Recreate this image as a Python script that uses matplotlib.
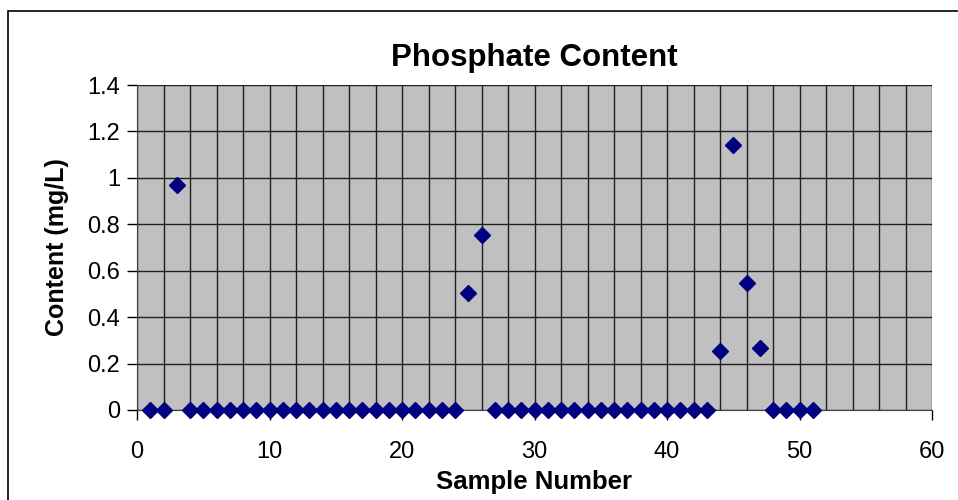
import matplotlib.pyplot as plt
from matplotlib.patches import Rectangle
from matplotlib.ticker import MultipleLocator

plt.rcParams['font.family'] = ['Liberation Sans', 'DejaVu Sans']

# sample numbers and phosphate content (mg/L)
sample = list(range(1, 52))
content = [0.0] * 51
content[3 - 1] = 0.97
content[25 - 1] = 0.505
content[26 - 1] = 0.755
content[44 - 1] = 0.255
content[45 - 1] = 1.14
content[46 - 1] = 0.545
content[47 - 1] = 0.265

fig = plt.figure(figsize=(9.58, 5), dpi=100)
ax = fig.add_axes([137/958, 1 - 410/500, (932-137)/958, (410-85)/500])

# outer chart frame (runs off the right and bottom of the picture)
fig.patches.append(Rectangle((8/958, -0.1), 1.2, 1 - 11/500 + 0.1, transform=fig.transFigure,
                             fill=False, edgecolor='black', linewidth=1.2))

ax.set_facecolor('#C0C0C0')
ax.plot(sample, content, linestyle='none', marker='D', markersize=8.5,
        color='#000080', clip_on=False, zorder=5)

ax.set_xlim(0, 60)
ax.set_ylim(0, 1.4)
ax.xaxis.set_major_locator(MultipleLocator(10))
ax.xaxis.set_minor_locator(MultipleLocator(2))
ax.set_yticks([0, 0.2, 0.4, 0.6, 0.8, 1.0, 1.2, 1.4])
ax.set_yticklabels(['0', '0.2', '0.4', '0.6', '0.8', '1', '1.2', '1.4'])
ax.grid(which='both', axis='x', color='#202020', linewidth=1)
ax.grid(which='major', axis='y', color='#202020', linewidth=1)
ax.set_axisbelow(True)
ax.tick_params(axis='both', which='major', direction='out', length=7, width=1,
               labelsize=17)
ax.tick_params(axis='x', which='major', pad=15)
ax.tick_params(axis='y', which='major', pad=5)
ax.tick_params(axis='x', which='minor', length=0)

for s in ['top', 'right']:
    ax.spines[s].set_visible(False)
ax.spines['left'].set_color('#404040')
ax.spines['bottom'].set_color('#404040')

ax.set_title('Phosphate Content', fontsize=22.5, fontweight='bold', pad=14)
ax.set_xlabel('Sample Number', fontsize=18.5, fontweight='bold', labelpad=5)
ax.set_ylabel('Content (mg/L)', fontsize=18, fontweight='bold', labelpad=13)

fig.savefig('out.png', dpi=100)
